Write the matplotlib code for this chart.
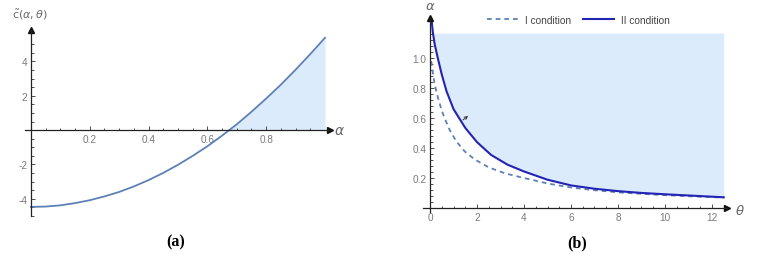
import numpy as np
import matplotlib
matplotlib.use("Agg")
import matplotlib.pyplot as plt
from matplotlib.lines import Line2D

plt.rcParams.update({
    "font.family": ["Liberation Sans", "DejaVu Sans"],
    "mathtext.fontset": "dejavusans",
})

# ---- panel (a): c~(alpha, theta) vs alpha ----
alpha_a = [0.0, 0.05, 0.10, 0.15, 0.20, 0.25, 0.30, 0.35, 0.40, 0.45, 0.50,
           0.55, 0.60, 0.65, 0.70, 0.75, 0.80, 0.85, 0.90, 0.95, 1.0]
c_a = [-4.47, -4.45, -4.38, -4.25, -4.08, -3.86, -3.60, -3.28, -2.91, -2.49,
       -2.02, -1.50, -0.94, -0.32, 0.34, 1.07, 1.84, 2.65, 3.52, 4.43, 5.38]
xticks_a = [0.2, 0.4, 0.6, 0.8]
yticks_a = [-4, -2, 2, 4]

# ---- panel (b): alpha vs theta, two conditions ----
theta_I = [0.05, 0.12, 0.19, 0.33, 0.48, 0.62, 0.84, 1.12, 1.48, 1.9, 2.5,
           3.2, 3.9, 5.0, 6.0, 7.0, 8.0, 9.0, 10.0, 11.0, 12.5]
alpha_I = [0.98, 0.90, 0.83, 0.74, 0.66, 0.60, 0.52, 0.445, 0.378, 0.325,
           0.272, 0.232, 0.205, 0.165, 0.138, 0.12, 0.106, 0.096, 0.087,
           0.08, 0.071]
theta_II = [0.06, 0.12, 0.2, 0.33, 0.5, 0.7, 1.0, 1.5, 2.0, 2.6, 3.3, 4.0,
            5.0, 6.0, 7.0, 8.0, 9.0, 10.0, 11.0, 12.5]
alpha_II = [1.26, 1.17, 1.09, 1.0, 0.89, 0.78, 0.66, 0.535, 0.44, 0.355,
            0.29, 0.245, 0.19, 0.152, 0.13, 0.114, 0.102, 0.093, 0.085, 0.073]
alpha_top = 1.167
xticks_b = [0, 2, 4, 6, 8, 10, 12]
yticks_b = [0.2, 0.4, 0.6, 0.8, 1.0]
legend_labels = ["I condition", "II condition"]

C_LINE = "#5e81b5"
C_DARK = "#2323b4"
C_FILL = "#dcebfc"
C_TXT = "#7a7a7a"
W, H = 761, 255


def px_axes(fig, x0, y0, x1, y1):
    # pixel box (top-left origin) -> figure axes
    return fig.add_axes([x0 / W, 1 - y1 / H, (x1 - x0) / W, (y1 - y0) / H])


def style(ax):
    for s in ("top", "right"):
        ax.spines[s].set_visible(False)
    ax.spines["left"].set_position(("data", 0))
    ax.spines["bottom"].set_position(("data", 0))
    for s in ("left", "bottom"):
        ax.spines[s].set_linewidth(0.9)
        ax.spines[s].set_color("#222222")
    ax.set_facecolor("none")
    ax.tick_params(which="both", direction="in", color="#333333",
                   labelcolor=C_TXT, labelsize=7.2, pad=2.5, width=0.6)
    ax.tick_params(which="major", length=3.2)
    ax.tick_params(which="minor", length=1.8)
    ax.plot(1, 0, ">", color="#111111", ms=4.5, clip_on=False,
            transform=ax.get_yaxis_transform())
    ax.plot(0, 1, "^", color="#111111", ms=4.5, clip_on=False,
            transform=ax.get_xaxis_transform())


fig = plt.figure(figsize=(W / 100, H / 100), dpi=100)

# ============ (a) ============
ax = px_axes(fig, 25, 30.7, 330, 217)
ax.set_xlim(-0.02, 1.017)
ax.set_ylim(-5.0, 5.85)
a = np.array(alpha_a); c = np.array(c_a)
ax.fill_between(a, c, 0, where=c >= 0, interpolate=True, color=C_FILL, lw=0)
ax.plot(a, c, color=C_LINE, lw=1.3)
style(ax)
ax.set_xticks(xticks_a)
ax.set_xticklabels(["%.1f" % v for v in xticks_a])
ax.set_xticks([v for v in np.arange(0.05, 1.0, 0.05) if round(v / 0.2, 3) % 1],
              minor=True)
ax.set_yticks(yticks_a)
ax.set_yticklabels([str(v) for v in yticks_a])
ax.set_yticks([v for v in np.arange(-5, 5.01, 0.5) if v % 2], minor=True)
fig.text(339 / W, 1 - 130.7 / H, r"$\alpha$", color="#666666", fontsize=10,
         ha="center", va="center")
fig.text(30 / W, 1 - 15 / H, r"$\tilde{\mathrm{c}}(\alpha,\theta)$",
         color="#666666", fontsize=8, ha="center", va="center")

# ============ (b) ============
bx = px_axes(fig, 423, 19.3, 727, 213)
bx.set_xlim(-0.3, 12.64)
bx.set_ylim(-0.025, 1.265)
t2 = np.array(theta_II); a2 = np.array(alpha_II)
bx.fill_between(t2, a2, alpha_top, where=a2 <= alpha_top, interpolate=True,
                color=C_FILL, lw=0)
bx.plot(theta_I, alpha_I, color=C_LINE, lw=1.3, ls=(0, (2.6, 2.2)))
bx.plot(t2, a2, color=C_DARK, lw=1.5)
bx.annotate("", xy=(1.62, 0.615), xytext=(1.4, 0.588),
            arrowprops=dict(arrowstyle="->", lw=0.7, color="#333333",
                            shrinkA=0, shrinkB=0, mutation_scale=5))
style(bx)
bx.set_xticks(xticks_b)
bx.set_xticks([v for v in np.arange(0.5, 12.6, 0.5) if v % 2], minor=True)
bx.set_yticks(yticks_b)
bx.set_yticklabels(["%.1f" % v for v in yticks_b])
bx.set_yticks([v for v in np.arange(0.04, 1.2, 0.04)
               if abs(v / 0.2 - round(v / 0.2)) > 1e-6], minor=True)
fig.text(740 / W, 1 - 210.7 / H, r"$\theta$", color="#666666", fontsize=9.5,
         ha="center", va="center")
fig.text(430 / W, 1 - 7 / H, r"$\alpha$", color="#666666", fontsize=9.5,
         ha="center", va="center")
handles = [Line2D([], [], color=C_LINE, lw=1.3, ls=(0, (2.6, 2.2))),
           Line2D([], [], color=C_DARK, lw=1.5)]
fig.legend(handles, legend_labels, loc="center",
           bbox_to_anchor=(578.5 / W, 1 - 20.7 / H), ncol=2, frameon=False,
           fontsize=7.3, handlelength=3.0, handletextpad=0.7,
           columnspacing=1.2, labelcolor="#444444")

# captions
fig.text(176 / W, 1 - 242 / H, "(a)", fontsize=11.5, fontweight="bold",
         family="Liberation Serif", ha="center", va="center")
fig.text(577.5 / W, 1 - 243 / H, "(b)", fontsize=11.5, fontweight="bold",
         family="Liberation Serif", ha="center", va="center")

fig.savefig("out.png", dpi=100)
